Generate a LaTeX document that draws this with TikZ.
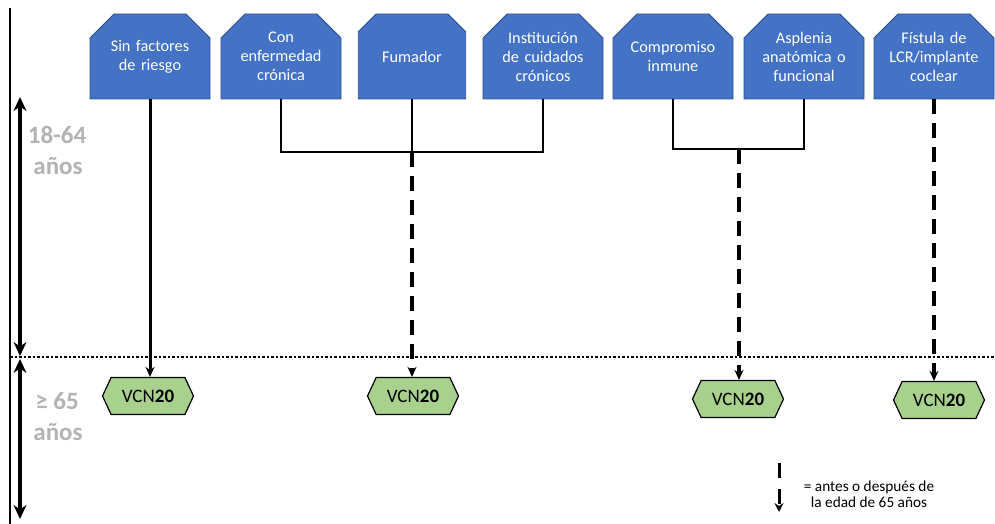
\documentclass[tikz,border=0pt]{standalone}
\usepackage{fontspec}
\setmainfont{Carlito}
\usetikzlibrary{shapes.misc,shapes.symbols,arrows.meta}
\definecolor{boxblue}{HTML}{4472C4}
\definecolor{boxedge}{HTML}{2F528F}
\definecolor{vgreen}{HTML}{A9D18E}
\definecolor{lblgray}{HTML}{B3B3B3}
\begin{document}
\begin{tikzpicture}[x=1pt,y=-1pt,
  factor/.style={chamfered rectangle, chamfered rectangle corners={north west,north east},
    chamfered rectangle xsep=12pt, chamfered rectangle ysep=12pt,
    fill=boxblue, draw=boxedge, line width=0.8pt, minimum width=96pt, minimum height=85pt,
    inner sep=0pt, text=white, align=center, text width=96pt,
    font=\fontsize{16.3}{19}\selectfont},
  vcn/.style={signal, signal to=west and east, signal pointer angle=130,
    fill=vgreen, draw=black, line width=1.2pt, minimum width=91pt, minimum height=37pt,
    inner sep=0pt, font=\fontsize{19}{20}\selectfont},
  solidarrow/.style={line width=3pt, -{Stealth[length=10pt,width=9pt]}},
  dasharrow/.style={line width=3.3pt, dash pattern=on 15pt off 9pt, -{Stealth[length=10pt,width=9pt]}},
  bracket/.style={line width=1.5pt},
  bigarrow/.style={line width=3.5pt, {Stealth[length=14pt,width=13pt]}-{Stealth[length=14pt,width=13pt]}},
  agelbl/.style={text=lblgray, font=\fontsize{25}{26}\bfseries\selectfont, align=center}
]
\useasboundingbox (0,0) rectangle (995,524);

% left axis
\coordinate (axtop) at (10,8);
\coordinate (axbot) at (10,524);
\draw[line width=1.4pt] (axtop) -- (axbot);
\coordinate (a1) at (20,97);
\coordinate (a2) at (20,356);
\coordinate (a3) at (20,359);
\coordinate (a4) at (20,519);
\draw[bigarrow] (a1) -- (a2);
\draw[bigarrow] (a3) -- (a4);
\node[agelbl] (l1a) at (57,135) {18-64};
\node[agelbl] (l1b) at (58,166) {años};
\node[agelbl] (l2a) at (57,401) {≥ 65};
\node[agelbl] (l2b) at (58,432) {años};

% dotted separator
\coordinate (s1) at (10,357);
\coordinate (s2) at (995,357);
\draw[line width=2.5pt, dash pattern=on 2.5pt off 2pt] (s1) -- (s2);

% factor boxes
\node[factor] (b1) at (150,56.5) {Sin factores\\de riesgo};
\node[factor] (b2) at (281,56.5) {Con\\enfermedad\\crónica};
\node[factor] (b3) at (412,56.5) {Fumador};
\node[factor] (b4) at (543,56.5) {Institución\\de cuidados\\crónicos};
\node[factor] (b5) at (673,56.5) {Compromiso\\inmune};
\node[factor] (b6) at (804,56.5) {Asplenia\\anatómica o\\funcional};
\node[factor] (b7) at (934,56.5) {Fístula de\\LCR/implante\\coclear};

% vaccine nodes
\node[vcn] (v1) at (148,396) {VCN\textbf{20}};
\node[vcn] (v2) at (413,396) {VCN\textbf{20}};
\node[vcn] (v3) at (738,399) {VCN\textbf{20}};
\node[vcn] (v4) at (939,400) {VCN\textbf{20}};

% connectors
\draw[solidarrow] (b1.south) -- (b1.south |- v1.north);

\coordinate (j1) at (412,152);
\draw[bracket] (b2.south) |- (j1) -| (b4.south);
\draw[bracket] (b3.south) -- (j1);
\draw[dasharrow] (j1) -- (j1 |- v2.north);

\coordinate (j2) at (739,149);
\draw[bracket] (b5.south) |- (j2) -| (b6.south);
\draw[dasharrow] (j2) -- (j2 |- v3.north);

\draw[dasharrow] (b7.south) -- (b7.south |- v4.north);

% legend
\coordinate (g1) at (779,463);
\coordinate (g2) at (779,512);
\draw[line width=3pt, dash pattern=on 15pt off 11pt, -{Stealth[length=9pt,width=9pt]}] (g1) -- (g2);
\node[align=center, font=\fontsize{15.3}{16}\selectfont] (leg) at (869,494) {= antes o después de\\la edad de 65 años};
\end{tikzpicture}
\end{document}
